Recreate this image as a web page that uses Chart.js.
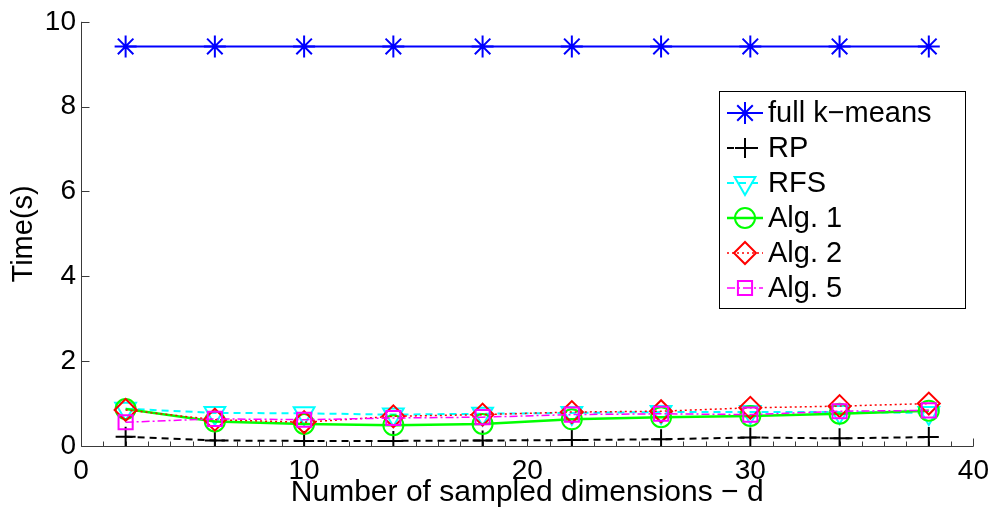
<!DOCTYPE html>
<html>
<head>
<meta charset="utf-8">
<script src="https://cdn.jsdelivr.net/npm/chart.js@4.4.1/dist/chart.umd.min.js"></script>
<style>
  html, body { margin: 0; padding: 0; background: #fff; }
  #wrap { width: 997px; height: 514px; position: relative; }
</style>
</head>
<body>
<div id="wrap"><canvas id="timeChart"></canvas></div>
<script>
/* ---- data ---- */
const dims = [2, 6, 10, 14, 18, 22, 26, 30, 34, 38];
const fullKmeans = [9.42, 9.42, 9.42, 9.42, 9.42, 9.42, 9.42, 9.42, 9.42, 9.42];
const rp   = [0.22, 0.13, 0.12, 0.12, 0.13, 0.14, 0.16, 0.20, 0.18, 0.21];
const rfs  = [0.88, 0.78, 0.77, 0.74, 0.76, 0.78, 0.80, 0.80, 0.80, 0.78];
const alg1 = [0.87, 0.58, 0.52, 0.49, 0.52, 0.63, 0.68, 0.71, 0.76, 0.83];
const alg2 = [0.85, 0.62, 0.56, 0.70, 0.74, 0.80, 0.82, 0.90, 0.94, 1.00];
const alg5 = [0.56, 0.64, 0.62, 0.66, 0.68, 0.74, 0.76, 0.74, 0.82, 0.84];

const seriesNames = ['full k\u2212means', 'RP', 'RFS', 'Alg. 1', 'Alg. 2', 'Alg. 5'];
const xTicks = [0, 10, 20, 30, 40];
const yTicks = [0, 2, 4, 6, 8, 10];

const FONT = '"Liberation Sans", Arial, Helvetica, sans-serif';

// style per series: colour, dash, line width, marker
const styles = [
  { color: '#0000ff', dash: [],           width: 2,   point: 'star',     radius: 11, rot: 0 },
  { color: '#000000', dash: [7, 5],       width: 2,   point: 'cross',    radius: 10, rot: 0 },
  { color: '#00ffff', dash: [7, 5],       width: 2,   point: 'triangle', radius: 12, rot: 180 },
  { color: '#00ff00', dash: [],           width: 2.5, point: 'circle',   radius: 10, rot: 0 },
  { color: '#ff0000', dash: [2, 3],       width: 1.5, point: 'rectRot',  radius: 11, rot: 0 },
  { color: '#ff00ff', dash: [8, 3, 2, 3], width: 1.5, point: 'rect',     radius: 10, rot: 0 }
];

const allSeries = [fullKmeans, rp, rfs, alg1, alg2, alg5];

const datasets = allSeries.map((vals, i) => ({
  label: seriesNames[i],
  data: dims.map((d, k) => ({ x: d, y: vals[k] })),
  borderColor: styles[i].color,
  borderWidth: styles[i].width,
  borderDash: styles[i].dash,
  pointStyle: styles[i].point,
  pointRadius: styles[i].radius,
  pointRotation: styles[i].rot,
  pointBorderColor: styles[i].color,
  pointBackgroundColor: 'rgba(0,0,0,0)',
  pointBorderWidth: 2,
  tension: 0,
  fill: false,
  order: allSeries.length - 1 - i   // later series drawn on top
}));

// draws a marker, same shapes as the chart
function marker(ctx, s, x, y) {
  ctx.save();
  ctx.strokeStyle = s.color;
  ctx.fillStyle = 'rgba(0,0,0,0)';
  ctx.lineWidth = 2;
  ctx.setLineDash([]);
  if (Chart.helpers && Chart.helpers.drawPoint) {
    Chart.helpers.drawPoint(ctx, { pointStyle: s.point, radius: s.radius, rotation: s.rot, borderWidth: 2 }, x, y);
  } else {
    ctx.beginPath();
    ctx.arc(x, y, s.radius, 0, Math.PI * 2);
    ctx.stroke();
  }
  ctx.restore();
}

/* ---- axes in matlab style: left + bottom, ticks inward ---- */
const axesPlugin = {
  id: 'matlabAxes',
  beforeDatasetsDraw(chart) {
    const { ctx, chartArea: a, scales: { x, y } } = chart;
    const b = Math.round(a.bottom) + 0.5;
    const l = Math.round(a.left) + 0.5;
    ctx.save();
    ctx.strokeStyle = '#3a3a3a';
    ctx.lineWidth = 1;
    ctx.beginPath();
    ctx.moveTo(l, a.top);
    ctx.lineTo(l, b);
    ctx.lineTo(a.right, b);
    xTicks.forEach(v => {
      const px = Math.round(x.getPixelForValue(v)) + 0.5;
      ctx.moveTo(px, b); ctx.lineTo(px, b - 8);
    });
    for (let v = x.min + 1; v < x.max; v++) {
      if (v % 10 === 0) continue;
      const px = Math.round(x.getPixelForValue(v)) + 0.5;
      ctx.moveTo(px, b); ctx.lineTo(px, b - 5);
    }
    yTicks.forEach(v => {
      const py = Math.round(y.getPixelForValue(v)) + 0.5;
      ctx.moveTo(l, py); ctx.lineTo(l + 8, py);
    });
    ctx.stroke();
    ctx.restore();
  }
};

/* ---- legend box with line sample + marker ---- */
const legendPlugin = {
  id: 'matlabLegend',
  afterDraw(chart) {
    const ctx = chart.ctx;
    const box = { left: 719, top: 91, right: 965, bottom: 308 };
    ctx.save();
    ctx.fillStyle = '#fff';
    ctx.fillRect(box.left, box.top, box.right - box.left, box.bottom - box.top);
    ctx.strokeStyle = '#000';
    ctx.lineWidth = 1;
    ctx.strokeRect(box.left + 0.5, box.top + 0.5, box.right - box.left, box.bottom - box.top);
    ctx.font = '29px ' + FONT;
    ctx.textBaseline = 'middle';
    seriesNames.forEach((name, i) => {
      const s = styles[i];
      const cy = 113 + i * 35;
      ctx.save();
      ctx.strokeStyle = s.color;
      ctx.lineWidth = s.width;
      ctx.setLineDash(s.dash);
      ctx.beginPath();
      ctx.moveTo(727, cy); ctx.lineTo(763, cy);
      ctx.stroke();
      ctx.restore();
      marker(ctx, s, 745, cy);
      ctx.fillStyle = '#000';
      ctx.fillText(name, 768, cy + 1);
    });
    ctx.restore();
  }
};

new Chart(document.getElementById('timeChart'), {
  type: 'line',
  data: { datasets },
  options: {
    responsive: true,
    maintainAspectRatio: false,
    animation: false,
    layout: { padding: { top: 21, right: 22, left: 0, bottom: 0 } },
    plugins: { legend: { display: false }, tooltip: { enabled: false } },
    scales: {
      x: {
        type: 'linear',
        min: 0, max: 40,
        afterBuildTicks: s => { s.ticks = xTicks.map(v => ({ value: v })); },
        afterFit: s => { s.height = 68; },
        grid: { display: false, drawTicks: false },
        border: { display: false },
        ticks: { color: '#000', padding: 8, font: { family: FONT, size: 28 }, maxRotation: 0 },
        title: { display: true, text: 'Number of sampled dimensions \u2212 d', color: '#000',
                 font: { family: FONT, size: 30 }, padding: { top: 0, bottom: 3 } }
      },
      y: {
        min: 0, max: 10,
        afterBuildTicks: s => { s.ticks = yTicks.map(v => ({ value: v })); },
        afterFit: s => { s.width = 81; },
        grid: { display: false, drawTicks: false },
        border: { display: false },
        ticks: { color: '#000', padding: 5, font: { family: FONT, size: 28 } },
        title: { display: true, text: 'Time(s)', color: '#000',
                 font: { family: FONT, size: 29 }, padding: { top: 7, bottom: 0 } }
      }
    }
  },
  plugins: [axesPlugin, legendPlugin]
});
</script>
</body>
</html>
